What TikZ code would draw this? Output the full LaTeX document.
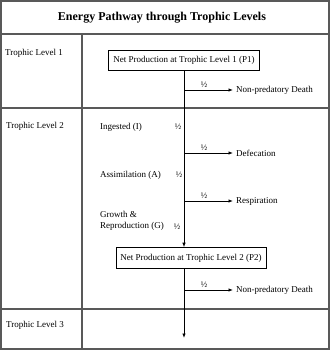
\documentclass[tikz,border=0pt]{standalone}
\usepackage{fontspec}
\setmainfont{Liberation Serif}
\usetikzlibrary{arrows.meta}
\begin{document}
\begin{tikzpicture}[x=1pt,y=-1pt,
  grid/.style={draw=black!65,line width=1.2pt},
  flow/.style={draw=black,line width=0.8pt},
  arr/.style={flow,-{Latex[length=4.5pt,width=3.5pt]}},
  txt/.style={font=\fontsize{9}{10}\selectfont,inner sep=0pt,anchor=west},
  half/.style={font=\fontsize{8.5}{9}\selectfont,inner sep=0pt},
  pbox/.style={draw=black,line width=0.6pt,fill=white,font=\fontsize{9}{10}\selectfont,inner sep=0pt,minimum height=20pt}]
\useasboundingbox (0,0) rectangle (330,351);
\fill[white] (0,0) rectangle (330,351);
% table
\draw[grid] (1,1) rectangle (329,349);
\draw[grid] (1,34) -- (329,34);
\draw[grid] (1,108) -- (329,108);
\draw[grid] (1,309) -- (329,309);
\draw[grid] (82,34) -- (82,349);
\node[font=\bfseries\fontsize{12}{13}\selectfont] (title) at (162,18) {Energy Pathway through Trophic Levels};
% row labels
\node[txt] (tl1) at (5,53) {Trophic Level 1};
\node[txt] (tl2) at (6,126) {Trophic Level 2};
\node[txt] (tl3) at (6,325) {Trophic Level 3};
% boxes
\node[pbox,minimum width=151pt] (p1) at (184,60) {Net Production at Trophic Level 1 (P1)};
\node[pbox,minimum width=150pt,minimum height=21pt] (p2) at (191,258) {Net Production at Trophic Level 2 (P2)};
% main line coordinates
\coordinate (b1) at (184,90);
\coordinate (b2) at (184,153);
\coordinate (b3) at (184,201);
\coordinate (b4) at (184,290);
\coordinate (end) at (184,338);
\path (p2.north) ++(-7,0) coordinate (e1);
\draw[arr] (p1.south -| b1) -- (e1);
\path (p2.south) ++(-7,0) coordinate (s2);
\draw[arr] (s2) -- (end);
% branches
\node[txt] (npd1) at (236,90) {Non-predatory Death};
\node[txt] (def) at (236,153) {Defecation};
\node[txt] (resp) at (236,201) {Respiration};
\node[txt] (npd2) at (236,290) {Non-predatory Death};
\draw[arr] (b1) -- ([xshift=-3pt]npd1.west);
\draw[arr] (b2) -- ([xshift=-3pt]def.west);
\draw[arr] (b3) -- ([xshift=-3pt]resp.west);
\draw[arr] (b4) -- ([xshift=-3pt]npd2.west);
\node[half] (h1) at (204,85) {½};
\node[half] (h2) at (204,148) {½};
\node[half] (h3) at (204,196) {½};
\node[half] (h4) at (204,285) {½};
% left labels
\node[txt] (ing) at (100,127) {Ingested (I)};
\node[txt] (ass) at (100,175) {Assimilation (A)};
\node[txt,align=left] (gr) at (100,221) {Growth \&\\[1pt]Reproduction (G)};
\node[half] (h5) at (178,127) {½};
\node[half] (h6) at (179,175) {½};
\node[half] (h7) at (177,227) {½};
\end{tikzpicture}
\end{document}
